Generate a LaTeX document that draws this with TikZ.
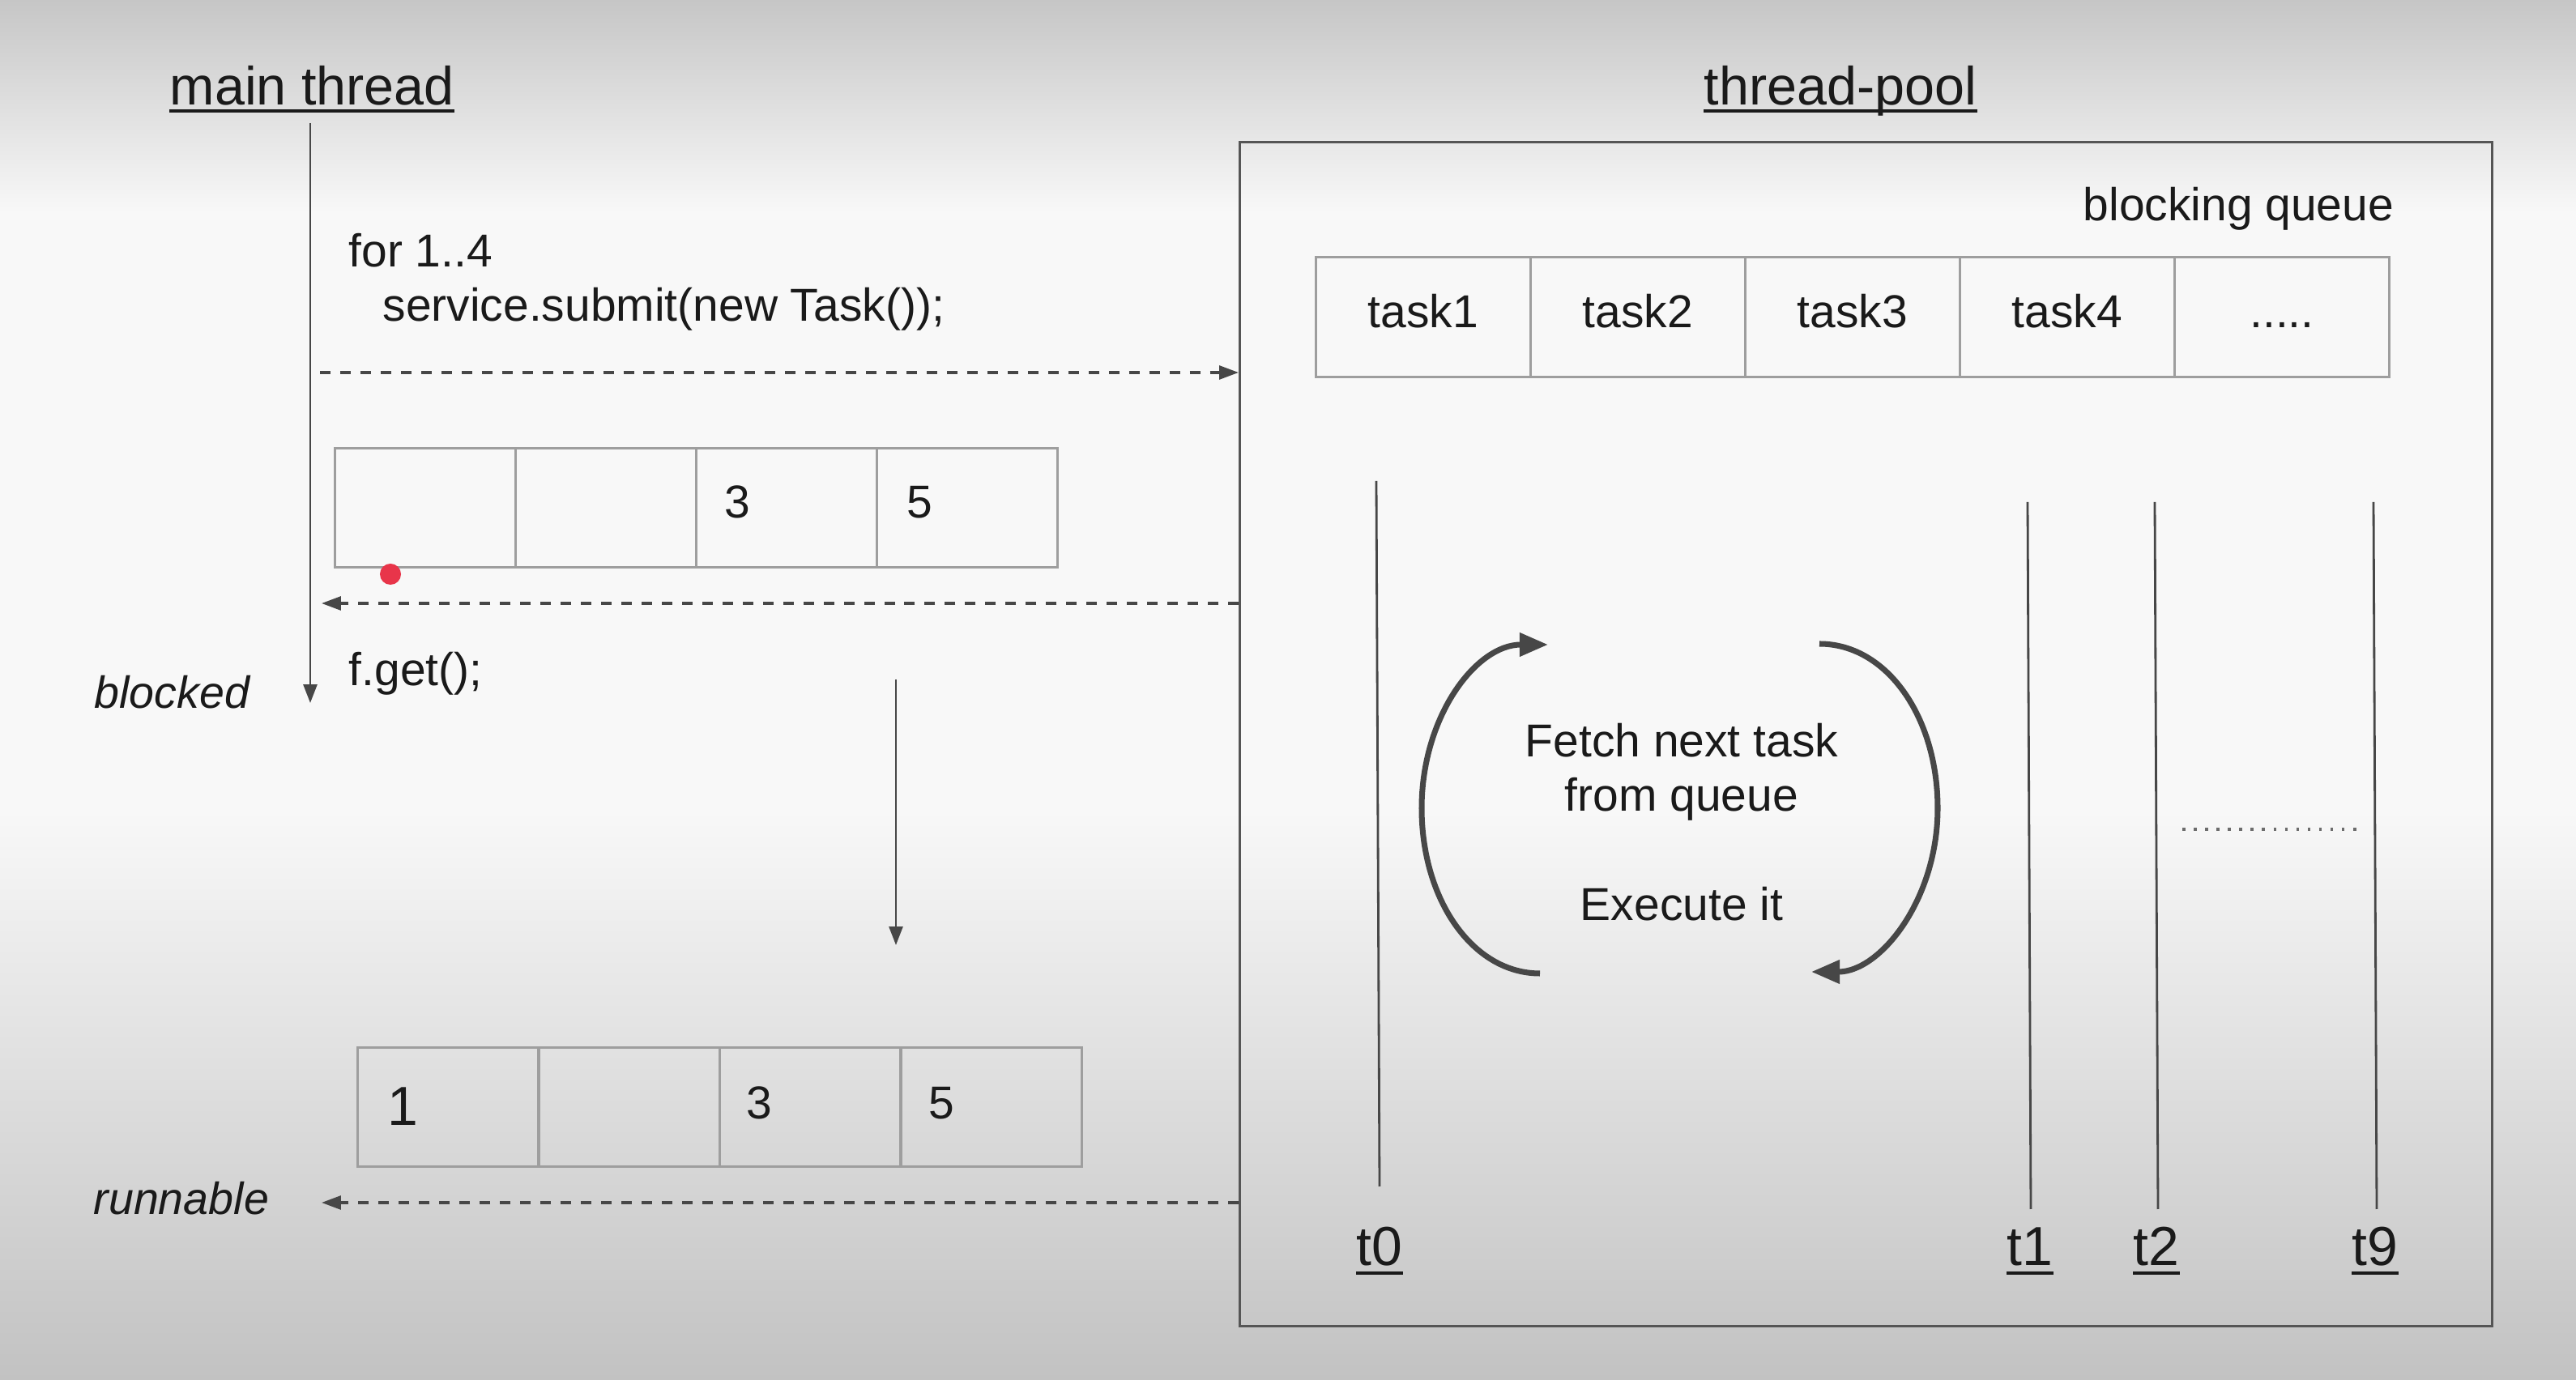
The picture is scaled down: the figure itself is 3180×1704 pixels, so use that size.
\documentclass[tikz,border=0pt]{standalone}
\usepackage{fontspec}
\setmainfont{Liberation Sans}
\usetikzlibrary{arrows.meta}

\definecolor{ink}{HTML}{1A1A1A}
\definecolor{wire}{HTML}{474747}
\definecolor{frame}{HTML}{555555}
\definecolor{cellgray}{HTML}{9E9E9E}
\definecolor{dotred}{HTML}{E8354A}
\definecolor{bgtop}{HTML}{C6C6C6}
\definecolor{bgmid}{HTML}{F8F8F8}
\definecolor{bgbot}{HTML}{C2C2C2}

\tikzset{
  txt/.style={inner sep=0pt, text=ink, font=\fontsize{16.2pt}{19.5pt}\selectfont},
  bigdigit/.style={inner sep=0pt, text=ink, font=\fontsize{19.3pt}{22pt}\selectfont},
  heading/.style={inner sep=0pt, text=ink, font=\fontsize{18.9pt}{22pt}\selectfont},
  statetxt/.style={inner sep=0pt, text=ink, font=\fontsize{15.8pt}{19pt}\selectfont\itshape},
  tlabel/.style={inner sep=0pt, text=ink, font=\fontsize{19.3pt}{22pt}\selectfont},
  cell/.style={draw=cellgray, line width=0.85pt, minimum height=1.47cm, inner sep=0pt},
  rescell/.style={cell, minimum width=2.23cm},
  qcell/.style={cell, minimum width=2.65cm},
  msg/.style={draw=wire, line width=0.9pt, dash pattern=on 3.7pt off 3.4pt,
              -{Triangle[length=6.8pt,width=4.8pt]}},
  lifeline/.style={draw=wire, line width=0.8pt},
  solidarrow/.style={lifeline, -{Triangle[length=6.5pt,width=4.8pt]}},
  cycle/.style={draw=wire, line width=2pt, -{Triangle[length=10pt,width=8pt]}},
  uline/.style={draw=ink, line width=1pt},
}

\begin{document}
\begin{tikzpicture}[x=0.01cm, y=-0.01cm]
  \useasboundingbox (0,0) rectangle (3180,1704);

  % page background: grey top edge, light middle, grey bottom
  \shade[top color=bgtop, bottom color=bgmid] (0,0) rectangle (3180,262);
  \fill[bgmid] (0,260) rectangle (3180,1002);
  \shade[top color=bgmid, bottom color=bgbot] (0,1000) rectangle (3180,1704);

  % ---------------- headings ----------------
  \node[heading, anchor=base west] (mainlbl) at (209,130) {main thread};
  \node[heading, anchor=base west] (poollbl) at (2103,130) {thread-pool};
  \draw[uline] ([yshift=-2pt]mainlbl.base west) -- ([yshift=-2pt]mainlbl.base east);
  \draw[uline] ([yshift=-2pt]poollbl.base west) -- ([yshift=-2pt]poollbl.base east);

  % ---------------- main thread ----------------
  \coordinate (mtop) at (383,152);
  \coordinate (mbot) at (383,868);
  \draw[solidarrow] (mtop) -- (mbot);

  \node[txt, anchor=base west] (loop) at (430,330) {for 1..4};
  \node[txt, anchor=base west] (submit) at (472,397) {service.submit(new Task());};
  \node[txt, anchor=base west] (get) at (430,847) {f.get();};
  \node[statetxt, anchor=base west] (blocked) at (116,875) {blocked};
  \node[statetxt, anchor=base west] (runnable) at (115,1500) {runnable};

  % futures before completion
  \node[rescell] (fa1) at (525,627) {};
  \node[rescell] (fa2) at (748,627) {};
  \node[rescell] (fa3) at (971,627) {};
  \node[rescell] (fa4) at (1194,627) {};
  \node[txt, anchor=base west] at (894,640) {3};
  \node[txt, anchor=base west] at (1119,640) {5};
  \node[circle, fill=dotred, minimum size=0.26cm, inner sep=0pt] (dot) at (482,709) {};

  % futures after completion
  \node[rescell] (fb1) at (553,1367) {};
  \node[rescell] (fb2) at (777,1367) {};
  \node[rescell] (fb3) at (1000,1367) {};
  \node[rescell] (fb4) at (1224,1367) {};
  \node[bigdigit, anchor=base west] at (478,1390) {1};
  \node[txt, anchor=base west] at (921,1382) {3};
  \node[txt, anchor=base west] at (1146,1382) {5};

  \coordinate (waittop) at (1106,839);
  \coordinate (waitbot) at (1106,1167);
  \draw[solidarrow] (waittop) -- (waitbot);

  % ---------------- thread pool ----------------
  \node[draw=frame, line width=0.9pt, minimum width=15.45cm, minimum height=14.61cm,
        inner sep=0pt] (pool) at (2303.5,906.5) {};

  \node[txt, anchor=base west] (bq) at (2571,273) {blocking queue};
  \node[qcell] (q1) at (1757,391.5) {};
  \node[qcell] (q2) at (2022,391.5) {};
  \node[qcell] (q3) at (2287,391.5) {};
  \node[qcell] (q4) at (2552,391.5) {};
  \node[qcell] (q5) at (2817,391.5) {};
  \node[txt, anchor=base] at (1757,405) {task1};
  \node[txt, anchor=base] at (2022,405) {task2};
  \node[txt, anchor=base] at (2287,405) {task3};
  \node[txt, anchor=base] at (2552,405) {task4};
  \node[txt, anchor=base] at (2817,405) {.....};

  % worker threads
  \coordinate (t0a) at (1699,594);  \coordinate (t0b) at (1703,1465);
  \coordinate (t1a) at (2503,620);  \coordinate (t1b) at (2507,1493);
  \coordinate (t2a) at (2660,620);  \coordinate (t2b) at (2664,1493);
  \coordinate (t9a) at (2930,620);  \coordinate (t9b) at (2934,1493);
  \draw[lifeline] (t0a) -- (t0b);
  \draw[lifeline] (t1a) -- (t1b);
  \draw[lifeline] (t2a) -- (t2b);
  \draw[lifeline] (t9a) -- (t9b);

  \node[tlabel, anchor=base] (t0) at (1703,1563) {t0};
  \node[tlabel, anchor=base] (t1) at (2506,1563) {t1};
  \node[tlabel, anchor=base] (t2) at (2662,1563) {t2};
  \node[tlabel, anchor=base] (t9) at (2932,1563) {t9};
  \foreach \t in {t0,t1,t2,t9}
    \draw[uline] ([yshift=-2.5pt]\t.base west) -- ([yshift=-2.5pt]\t.base east);

  \coordinate (gapl) at (2694,1024);
  \coordinate (gapr) at (2910,1024);
  \draw[draw=wire!80, line width=1pt, dash pattern=on 1pt off 3pt] (gapl) -- (gapr);

  % worker loop
  \node[txt, anchor=base] (fetch) at (2076,935) {Fetch next task};
  \node[txt, anchor=base] (fromq) at (2076,1002) {from queue};
  \node[txt, anchor=base] (exec) at (2076,1137) {Execute it};
  \coordinate (la) at (1901,1202);
  \coordinate (lb) at (1911,796);
  \coordinate (ra) at (2246,795);
  \coordinate (rb) at (2236,1200);
  \draw[cycle] (la) .. controls (1818,1202) and (1755,1111) .. (1755,998)
                    .. controls (1755,885) and (1822,796) .. (lb);
  \draw[cycle] (ra) .. controls (2329,795) and (2392,885) .. (2392,998)
                    .. controls (2392,1111) and (2321,1200) .. (rb);

  % ---------------- messages ----------------
  \coordinate (send) at (395,460);
  \coordinate (ret1) at (397,745);
  \coordinate (ret2) at (397,1485);
  \draw[msg] (send) -- (send -| pool.west);
  \draw[msg] (ret1 -| pool.west) -- (ret1);
  \draw[msg] (ret2 -| pool.west) -- (ret2);
\end{tikzpicture}
\end{document}
